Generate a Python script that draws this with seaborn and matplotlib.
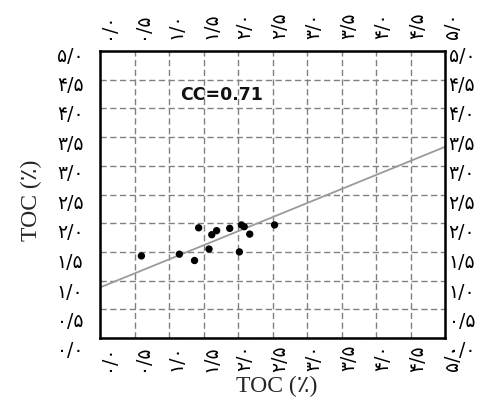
import matplotlib
matplotlib.use("Agg")
import matplotlib.pyplot as plt
import matplotlib.transforms as mtransforms
import seaborn as sns
import numpy as np

# ---- data ----
x_vals = [0.60, 1.15, 1.37, 1.43, 1.58, 1.62, 1.69, 1.88, 2.02, 2.05, 2.09, 2.17, 2.53]
y_vals = [1.43, 1.46, 1.35, 1.92, 1.55, 1.80, 1.87, 1.91, 1.50, 1.97, 1.94, 1.81, 1.97]
fit_intercept = 0.88
fit_slope = 0.49
tick_values = [0.0, 0.5, 1.0, 1.5, 2.0, 2.5, 3.0, 3.5, 4.0, 4.5, 5.0]
tick_labels = ['۰/۰', '۰/۵', '۱/۰', '۱/۵', '۲/۰', '۲/۵', '۳/۰', '۳/۵', '۴/۰', '۴/۵', '۵/۰']
x_label = 'TOC (٪)'
y_label = 'TOC (٪)'
cc_text = 'CC=0.71'

sns.set_theme(style="white")
plt.rcParams['font.family'] = ['DejaVu Sans']

fig = plt.figure(figsize=(4.86, 4.12), dpi=100)
ax = fig.add_axes([100/486, 1 - 338/412, 345/486, 287/412])

line_x = np.array([tick_values[0], tick_values[-1]])
line_y = fit_intercept + fit_slope * line_x
ax.plot(line_x, line_y, color='#9a9a9a', lw=1.3, zorder=2)

sns.scatterplot(x=x_vals, y=y_vals, color='black', s=28, edgecolor='none', ax=ax, zorder=3)

ax.set_xlim(tick_values[0], tick_values[-1])
ax.set_ylim(tick_values[0], tick_values[-1])
ax.set_xticks(tick_values)
ax.set_yticks(tick_values)
ax.set_xticklabels(tick_labels, rotation=90)
ax.set_yticklabels(tick_labels)
ax.tick_params(axis='both', which='both', length=0, labelsize=13.5, colors='black')
ax.tick_params(axis='x', labeltop=True, labelbottom=True, pad=5)
ax.tick_params(axis='y', labelleft=True, labelright=True, pad=4)

ax.grid(True, color='#808080', linestyle=(0, (4.5, 2.5)), linewidth=1.0, zorder=1)
ax.set_axisbelow(True)
for sp in ax.spines.values():
    sp.set_visible(True)
    sp.set_color('black')
    sp.set_linewidth(1.8)

# offset tick labels slightly as in the reference
def px(dx, dy):
    return mtransforms.ScaledTranslation(dx/100, dy/100, fig.dpi_scale_trans)

for t in ax.xaxis.get_major_ticks():
    t.label1.set_transform(t.label1.get_transform() + px(7, 0))
    t.label2.set_transform(t.label2.get_transform() + px(7, 5))
for t, v in zip(ax.yaxis.get_major_ticks(), tick_values):
    shift = -(11 - 1.6 * v)
    t.label1.set_transform(t.label1.get_transform() + px(-11, shift))
    t.label2.set_transform(t.label2.get_transform() + px(-2, shift))

ax.set_xlabel(x_label, fontsize=17, family=['Liberation Serif', 'DejaVu Sans'], va='center')
ax.set_ylabel(y_label, fontsize=17, family=['Liberation Serif', 'DejaVu Sans'], va='center')
ax.xaxis.set_label_coords(0.513, -0.168)
ax.yaxis.set_label_coords(-0.198, 0.48)

ax.text(1.16, 4.23, cc_text, fontsize=12.5, fontweight='bold', ha='left', va='center',
        color='#111111', zorder=4)

fig.savefig('out.png', dpi=100)
